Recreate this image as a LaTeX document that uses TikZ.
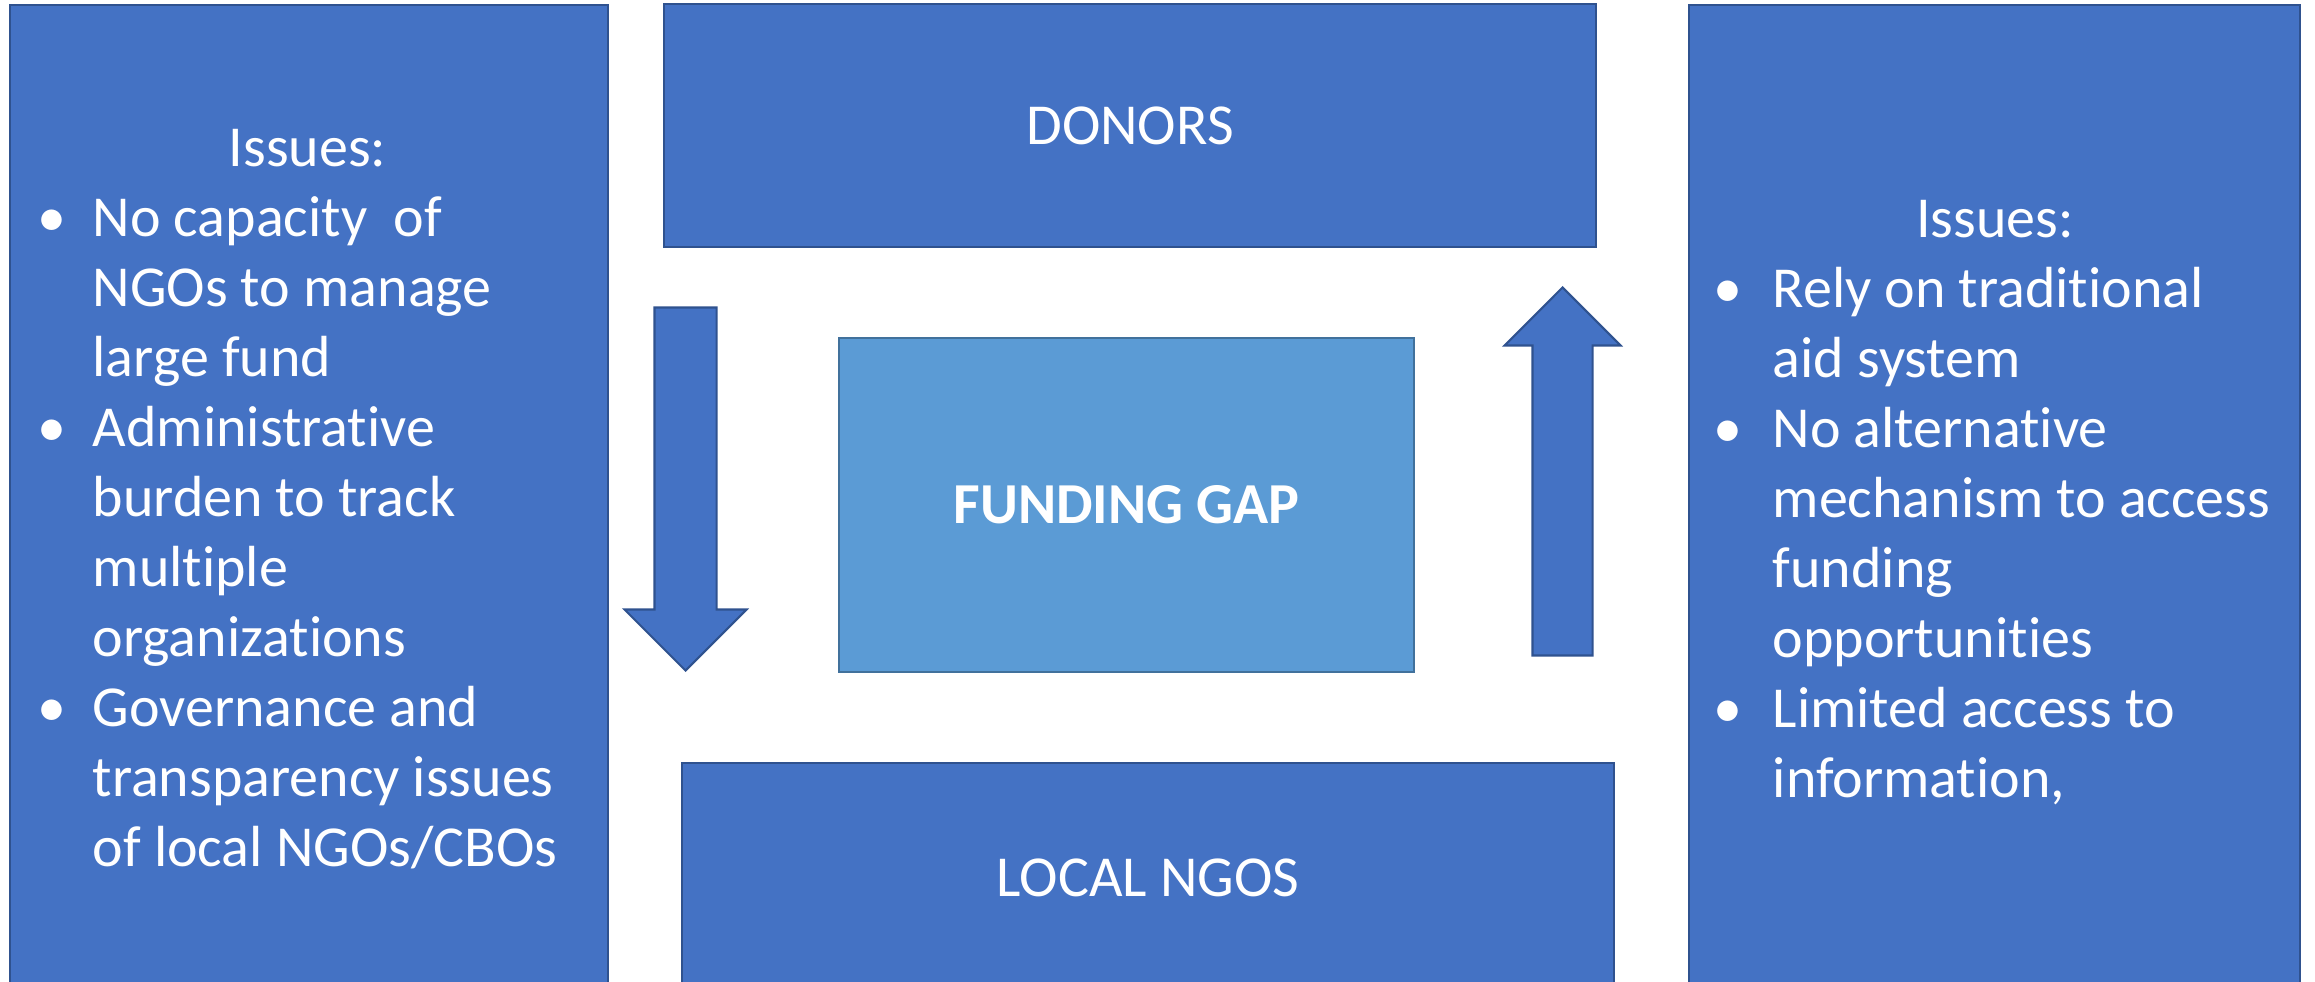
\documentclass[tikz,border=0pt]{standalone}
\usepackage{fontspec}
\setmainfont[Ligatures=NoCommon]{Carlito}
\usetikzlibrary{shapes.arrows}
\definecolor{officeblue}{HTML}{4472C4}
\definecolor{officeedge}{HTML}{2F528F}
\definecolor{gapblue}{HTML}{5B9BD5}
\definecolor{gapedge}{HTML}{41719C}

\begin{document}
\begin{tikzpicture}[
    bluebox/.style={rectangle, draw=officeedge, fill=officeblue, line width=0.6pt,
                    inner sep=0pt, text=white, font=\fontsize{16.5}{19.9}\selectfont},
    gapbox/.style={rectangle, draw=gapedge, fill=gapblue, line width=0.6pt,
                   inner sep=0pt, text=white, font=\fontsize{16.5}{19.9}\selectfont\bfseries},
    flowarr/.style={single arrow, draw=officeedge, fill=officeblue, line width=0.6pt,
                    inner xsep=0pt, minimum width=0pt, anchor=tip},
    issuelist/.style={anchor=north west, inner sep=0pt, text=white,
                      font=\fontsize{16.5}{19.9}\selectfont},
]
  \useasboundingbox (0,0) rectangle (23.15,-9.82);
  \clip (0,0) rectangle (23.15,-9.82);

  % Side columns (run off the bottom edge)
  \node[bluebox, minimum width=5.98cm, minimum height=10.45cm] (issuesL) at (3.09,-5.275) {};
  \node[bluebox, minimum width=6.11cm, minimum height=10.45cm] (issuesR) at (19.945,-5.275) {};

  % Middle column
  \node[bluebox, minimum width=9.32cm, minimum height=2.43cm] (donors) at (11.30,-1.255) {DONORS};
  \node[gapbox, minimum width=5.75cm, minimum height=3.34cm] (gap) at (11.265,-5.05) {FUNDING GAP};
  \node[bluebox, minimum width=9.32cm, minimum height=2.30cm] (ngos) at (11.48,-8.78) {LOCAL NGOS};

  % Flow arrows beside the gap (placed by their tips)
  \node[flowarr, rotate=-90, inner ysep=0.30cm, single arrow head extend=0.30cm,
        minimum height=3.63cm] (downarr) at (6.855,-6.72) {};
  \node[flowarr, rotate=90, inner ysep=0.29cm, single arrow head extend=0.28cm,
        minimum height=3.68cm] (uparr) at (15.625,-2.86) {};

  % Issue lists
  \node[issuelist] (listL) at (0.37,-1.17) {%
    \begin{tabular}{@{}p{0.55cm}@{}l@{}}
      \multicolumn{2}{c}{\hspace{0.2cm}Issues:}\\
      • & No capacity\ \ of\\
        & NGOs to manage\\
        & large fund\\
      • & Administrative\\
        & burden to track\\
        & multiple\\
        & organizations\\
      • & Governance and\\
        & transparency issues\\
        & of local NGOs/CBOs
    \end{tabular}};
  \node[issuelist] (listR) at (17.13,-1.88) {%
    \begin{tabular}{@{}p{0.59cm}@{}l@{}}
      \multicolumn{2}{c}{\hspace{0.06cm}Issues:}\\
      • & Rely on traditional\\
        & aid system\\
      • & No alternative\\
        & mechanism to access\\
        & funding\\
        & opportunities\\
      • & Limited access to\\
        & information,
    \end{tabular}};
\end{tikzpicture}
\end{document}
